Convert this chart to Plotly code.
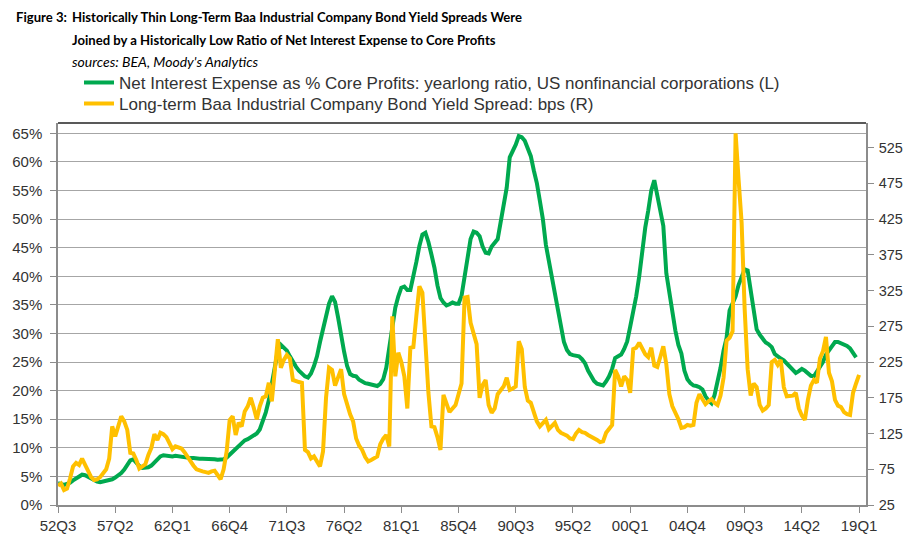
import plotly.graph_objects as go

# ---- data (quarterly, starting 1952Q3) ----
start_year, start_q = 1952, 3

net_interest_pct = [
    3.8, 3.6, 3.5, 3.7, 3.9, 4.3, 4.7, 5.0, 5.3, 5.2,
    4.9, 4.6, 4.3, 4.1, 4.0, 4.1, 4.2, 4.3, 4.5, 4.8,
    5.1, 5.6, 6.2, 7.0, 7.8, 8.0, 7.4, 6.8, 6.5, 6.5,
    6.6, 6.9, 7.4, 8.0, 8.5, 8.7, 8.6, 8.5, 8.5, 8.6,
    8.5, 8.5, 8.4, 8.3, 8.2, 8.2, 8.1, 8.1, 8.1, 8.1,
    8.0, 8.0, 8.0, 7.9, 7.9, 8.0, 8.3, 8.8, 9.4, 10.0,
    10.5, 10.9, 11.3, 11.5, 11.8, 12.1, 12.5, 13.2, 14.5, 16.2,
    18.3, 21.0, 24.5, 27.0, 28.0, 27.5,
    27.0, 26.0, 25.0, 24.2, 23.5, 22.9, 22.5, 22.3, 23.0, 24.3,
    26.0, 28.5, 30.8, 33.0, 35.2, 36.5, 35.5, 32.8, 29.5, 26.8,
    24.3, 22.9, 22.6, 22.5, 21.9, 21.5, 21.3, 21.2, 21.1, 21.0,
    20.8, 21.2, 22.0, 24.0, 27.5, 31.3, 34.5, 36.5, 38.0, 38.2,
    37.6, 37.6, 39.8, 42.5, 45.3, 47.3, 47.6, 46.0, 43.8, 41.5,
    38.4, 36.2, 35.4, 34.9, 35.1, 35.4, 35.2, 35.2, 36.6, 40.0,
    43.5, 46.5, 47.8, 47.6, 47.0, 45.2, 44.1, 44.0, 45.2, 45.8,
    46.5, 49.5, 52.8, 55.5, 60.8, 61.8, 63.0, 64.5, 64.3, 63.7,
    62.5, 61.0, 58.5, 56.3, 53.2, 50.0, 45.5, 42.5, 40.0, 36.5,
    33.5, 30.5, 28.5, 27.1, 26.4, 26.2, 26.1, 26.0, 25.5, 24.8,
    23.5, 22.6, 21.7, 21.2, 21.0, 20.9, 21.6, 22.5, 23.8, 25.7,
    26.0, 26.3, 27.3, 28.6, 31.2, 33.8, 36.5, 40.0, 44.5, 48.5,
    51.5, 55.0, 56.8, 54.0, 51.0, 48.8, 40.5, 37.0, 34.0, 30.5,
    28.0, 26.5, 23.5, 22.0, 21.3, 20.9, 20.8, 20.6, 20.2, 19.0,
    18.3, 17.8, 19.2, 21.5, 24.0, 27.0, 29.2, 34.0, 35.2, 36.5,
    38.5, 39.8, 41.2, 41.0, 37.3, 33.5, 30.7, 29.8, 29.2, 28.4,
    28.1, 27.6, 26.4, 25.9, 25.6, 25.3, 24.7, 24.3, 23.7, 23.1,
    23.4, 23.8, 23.5, 23.0, 22.6, 22.5, 23.3, 24.0, 25.0, 26.3,
    27.1, 27.9, 28.5, 28.5, 28.3, 28.0, 27.8, 27.4, 26.6, 25.8,
]

baa_spread_bps = [
    52, 55, 46, 48, 62, 79, 84, 81, 90, 82,
    74, 64, 60, 61, 64, 70, 75, 90, 135, 121,
    135, 149, 142, 130, 98, 97, 88, 76, 79, 82,
    95, 105, 124, 116, 126, 124, 120, 110, 103, 107,
    105, 104, 99, 92, 86, 80, 75, 73, 72, 71,
    70, 72, 73, 67, 61, 75, 100, 144, 149, 123,
    140, 135, 156, 163, 175, 161, 145, 163, 175, 177,
    196, 170, 219, 257, 217, 228,
    235, 230, 200, 198, 197, 196, 102, 99, 90, 93,
    86, 79, 100, 175, 217, 214, 192, 205, 215, 180,
    165, 152, 142, 118, 108, 102, 92, 86, 88, 90,
    93, 110, 118, 123, 107, 289, 205, 238, 225, 205,
    160, 245, 246, 290, 331, 322, 250, 182, 135, 134,
    120, 102, 179, 165, 155, 160, 165, 180, 195, 315,
    316, 280, 262, 250, 175, 193, 200, 165, 154, 160,
    180, 186, 191, 203, 186, 188, 191, 254, 243, 190,
    171, 168, 155, 142, 135, 140, 144, 131, 136, 140,
    130, 126, 124, 122, 118, 117, 125, 130, 127, 126,
    123, 121, 119, 116, 113, 114, 126, 132, 137, 214,
    205, 191, 205, 200, 182, 243, 245, 252, 245, 236,
    232, 245, 220, 218, 232, 247, 222, 180, 163, 155,
    145, 133, 134, 137, 136, 137, 168, 180, 172, 166,
    170, 173, 168, 165, 178, 203, 255, 259, 268, 545,
    480, 420, 300, 215, 178, 195, 190, 165, 157, 160,
    165, 225, 228, 221, 228, 190, 177, 177, 178, 182,
    160, 150, 144, 172, 192, 200, 196, 230, 240, 260,
    210, 198, 172, 164, 162, 155, 152, 151, 182, 195, 207,
]

tick_labels = ["52Q3", "57Q2", "62Q1", "66Q4", "71Q3", "76Q2", "81Q1", "85Q4",
               "90Q3", "95Q2", "00Q1", "04Q4", "09Q3", "14Q2", "19Q1"]
left_ticks = list(range(0, 66, 5))
left_tick_text = [f"{v}%" for v in left_ticks]
right_ticks = list(range(25, 526, 50))

# quarter category labels
n = max(len(net_interest_pct), len(baa_spread_bps))
quarters = []
y, q = start_year, start_q
for _ in range(n):
    quarters.append(f"{y % 100:02d}Q{q}")
    q += 1
    if q > 4:
        q = 1
        y += 1

GREEN = "#00A94F"
GOLD = "#FFC000"
FONT = "Liberation Sans, Arial, sans-serif"
TITLE_FONT = "Lato, Liberation Sans, sans-serif"

fig = go.Figure()
fig.add_trace(go.Scatter(
    x=quarters[:len(net_interest_pct)], y=net_interest_pct, mode="lines",
    name="Net Interest Expense as % Core Profits: yearlong ratio, US nonfinancial corporations (L)",
    line=dict(color=GREEN, width=4), legend="legend", yaxis="y"))
fig.add_trace(go.Scatter(
    x=quarters[:len(baa_spread_bps)], y=baa_spread_bps, mode="lines",
    name="Long-term Baa Industrial Company Bond Yield Spread: bps (R)",
    line=dict(color=GOLD, width=4), legend="legend2", yaxis="y2"))

LMAX = 66.8
legend_common = dict(xanchor="left", yanchor="top",
                     font=dict(family=FONT, size=17, color="#333333"),
                     bgcolor="rgba(0,0,0,0)", itemwidth=30)
fig.update_layout(
    width=916, height=550,
    margin=dict(l=58, r=50, t=123, b=45),
    paper_bgcolor="white", plot_bgcolor="white",
    font=dict(family=FONT, size=14, color="#333333"),
    showlegend=True,
    legend=dict(x=0.026, y=1.152, **legend_common),
    legend2=dict(x=0.026, y=1.097, **legend_common),
    xaxis=dict(type="category", range=[0, 268.3],
               tickmode="array", tickvals=tick_labels, ticktext=tick_labels,
               showgrid=False, showline=True, linecolor="#8C8C8C", linewidth=1.5,
               ticks="outside", ticklen=6, tickcolor="#8C8C8C",
               tickfont=dict(size=15, color="#333333"), zeroline=False),
    yaxis=dict(range=[0, LMAX], tickmode="array", tickvals=left_ticks, ticktext=left_tick_text,
               showgrid=True, gridcolor="#A6A6A6", gridwidth=1.3,
               showline=True, linecolor="#8C8C8C", linewidth=1.5,
               ticks="outside", ticklen=6, tickcolor="#8C8C8C", ticklabelstandoff=5,
               tickfont=dict(size=15, color="#333333"), zeroline=False),
    yaxis2=dict(range=[25, 25 + 8 * LMAX], tickmode="array", tickvals=right_ticks,
                overlaying="y", side="right", showgrid=False,
                showline=True, linecolor="#8C8C8C", linewidth=1.5,
                ticks="outside", ticklen=6, tickcolor="#8C8C8C", ticklabelstandoff=2,
                tickfont=dict(size=14.5, color="#333333"), zeroline=False),
)

fig.add_shape(type="line", xref="paper", yref="paper", x0=0, x1=1, y0=1, y1=1,
              line=dict(color="#595959", width=2))

ann = [
    dict(text="<b>Figure 3:</b>", x=-0.054, y=1.2775),
    dict(text="<b>Historically Thin Long-Term Baa Industrial Company Bond Yield Spreads Were</b>",
         x=0.01485, y=1.2775),
    dict(text="<b>Joined by a Historically Low Ratio of Net Interest Expense to Core Profits</b>",
         x=0.01485, y=1.2173),
]
for a in ann:
    fig.add_annotation(xref="paper", yref="paper", xanchor="left", yanchor="middle",
                       showarrow=False, font=dict(family=TITLE_FONT, size=13.1, color="#000000"), **a)
fig.add_annotation(xref="paper", yref="paper", xanchor="left", yanchor="middle",
                   showarrow=False, x=0.01485, y=1.1597,
                   text="<i>sources: BEA, Moody's Analytics</i>",
                   font=dict(family=TITLE_FONT, size=14, color="#000000"))

fig.write_html("out.html", config={"displayModeBar": False},
               post_script="document.body.style.margin='0px';")
